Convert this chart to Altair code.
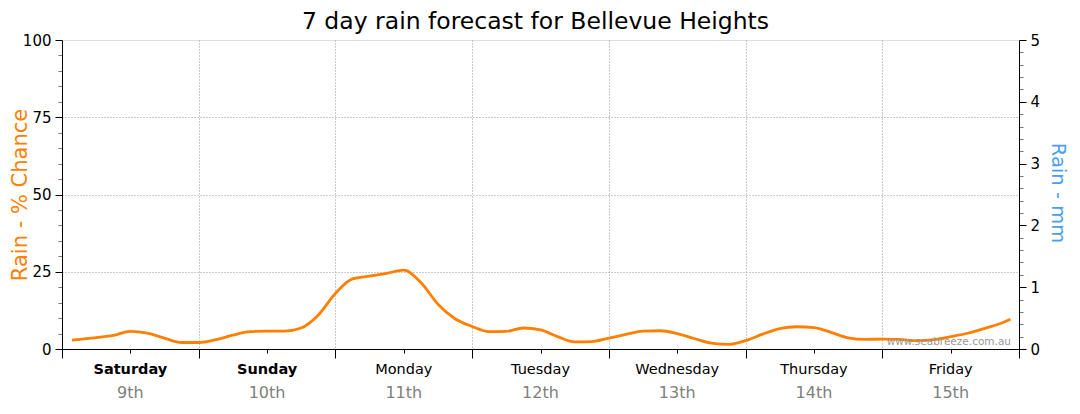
import altair as alt
import pandas as pd

# ---- data ----
hours = [1.75, 6, 9, 12, 15, 18, 21, 24, 27, 30, 33, 36, 39, 42, 45, 48, 51, 54, 57, 60,
         63, 66, 69, 72, 75, 78, 81, 84, 87, 90, 93, 96, 99, 102, 105, 108, 111, 114, 117,
         120, 123, 126, 129, 132, 135, 138, 141, 144, 147, 150, 153, 156, 159, 162, 165, 166.5]
chance = [2.9, 3.7, 4.4, 5.7, 5.1, 3.5, 2.1, 2.1, 3.0, 4.5, 5.6, 5.8, 5.8, 6.8, 11.0, 18.0,
          22.7, 23.6, 24.5, 25.5, 21.5, 14.5, 9.8, 7.3, 5.6, 5.7, 6.8, 6.2, 4.0, 2.3, 2.4,
          3.5, 4.7, 5.8, 5.9, 5.0, 3.4, 1.9, 1.5, 2.7, 4.8, 6.6, 7.2, 6.9, 5.4, 3.6, 3.1,
          3.2, 3.1, 2.7, 3.0, 4.0, 5.1, 6.7, 8.4, 9.6]
rain_mm = [0.0] * len(hours)

day_mid = [12, 36, 60, 84, 108, 132, 156]
day_names = ["Saturday", "Sunday", "Monday", "Tuesday", "Wednesday", "Thursday", "Friday"]
day_bold = [True, True, False, False, False, False, False]
day_dates = ["9th", "10th", "11th", "12th", "13th", "14th", "15th"]

pct_ticks = list(range(0, 101, 5))
mm_ticks = [round(i * 0.2, 1) for i in range(26)]
hour_ticks = list(range(0, 169, 6))

TITLE = "7 day rain forecast for Bellevue Heights"
WATERMARK = "www.seabreeze.com.au"

FONT = "DejaVu Sans"
W, H = 957, 309
ORANGE = "#ff7f00"
BLUE = "#4a9ef5"

df = pd.DataFrame({"h": hours, "chance": chance, "mm": rain_mm})
days = pd.DataFrame({"h": day_mid, "name": day_names, "bold": day_bold, "date": day_dates})

xscale = alt.Scale(domain=[0, 168], nice=False, zero=False)
xaxis = alt.Axis(
    values=hour_ticks, labels=False, title=None,
    domainColor="black", domainWidth=1,
    tickColor="black", tickWidth=1,
    tickSize={"condition": {"test": "datum.value % 24 == 0", "value": 9}, "value": 4},
    grid=True, gridColor="#999999", gridDash=[1, 2], gridWidth=1,
    gridOpacity={"condition": {"test": "datum.value % 24 == 0 && datum.value > 0 && datum.value < 168",
                               "value": 1}, "value": 0},
)

yaxis_left = alt.Axis(
    values=pct_ticks, orient="left",
    labelExpr="datum.value % 25 == 0 ? datum.label : ''",
    labelOverlap=False, labelFont=FONT, labelFontSize=15, labelColor="black", labelPadding=4,
    domainColor="black", domainWidth=1,
    tickColor={"condition": {"test": "datum.value % 25 == 0", "value": "black"}, "value": "#777777"},
    tickWidth=1,
    tickSize={"condition": {"test": "datum.value % 25 == 0", "value": 7}, "value": 4},
    grid=True, gridColor="#999999", gridDash=[1, 2], gridWidth=1,
    gridOpacity={"condition": {"test": "datum.value % 25 == 0 && datum.value > 0 && datum.value < 100",
                               "value": 1}, "value": 0},
    title="Rain - % Chance", titleColor=ORANGE, titleFont=FONT, titleFontSize=21,
    titleFontWeight="normal", titleX=-42, titleY=H / 2, titleAngle=270,
    titleBaseline="middle", titleAlign="center",
)

yaxis_right = alt.Axis(
    values=mm_ticks, orient="right", grid=False,
    labelExpr="abs(datum.value - round(datum.value)) < 0.001 ? '' + round(datum.value) : ''",
    labelOverlap=False, labelFont=FONT, labelFontSize=15, labelColor="black", labelPadding=4,
    domainColor="black", domainWidth=1,
    tickColor={"condition": {"test": "abs(datum.value - round(datum.value)) < 0.001", "value": "black"},
               "value": "#777777"},
    tickWidth=1,
    tickSize={"condition": {"test": "abs(datum.value - round(datum.value)) < 0.001", "value": 7},
              "value": 4},
    title="Rain - mm", titleColor=BLUE, titleFont=FONT, titleFontSize=19.5,
    titleFontWeight="normal", titleX=38, titleY=H / 2 - 2, titleAngle=90,
    titleBaseline="middle", titleAlign="center",
)

base = alt.Chart(df)

line = base.mark_line(color=ORANGE, strokeWidth=2.8, interpolate="monotone").encode(
    x=alt.X("h:Q", scale=xscale, axis=xaxis),
    y=alt.Y("chance:Q", scale=alt.Scale(domain=[0, 100], nice=False), axis=yaxis_left),
)

mm_layer = base.mark_line(opacity=0).encode(
    x=alt.X("h:Q", scale=xscale),
    y=alt.Y("mm:Q", scale=alt.Scale(domain=[0, 5], nice=False), axis=yaxis_right),
)

day_base = alt.Chart(days)
weekend = day_base.transform_filter("datum.bold").mark_text(
    font=FONT, fontSize=14.5, fontWeight="bold", color="black", baseline="middle", clip=False
).encode(x=alt.X("h:Q", scale=xscale), y=alt.value(H + 21), text="name:N")
weekday = day_base.transform_filter("!datum.bold").mark_text(
    font=FONT, fontSize=14.5, fontWeight="normal", color="black", baseline="middle", clip=False
).encode(x=alt.X("h:Q", scale=xscale), y=alt.value(H + 21), text="name:N")
dates = day_base.mark_text(
    font=FONT, fontSize=16, color="#808080", baseline="middle", clip=False
).encode(x=alt.X("h:Q", scale=xscale), y=alt.value(H + 44), text="date:N")

wm = alt.Chart(alt.Data(values=[{"t": WATERMARK}])).mark_text(
    font=FONT, fontSize=10.5, color="#999999", align="right", baseline="alphabetic"
).encode(x=alt.value(W - 8), y=alt.value(H - 4), text="t:N")

chart = alt.layer(line, mm_layer, weekend, weekday, dates, wm).resolve_scale(
    y="independent"
).properties(
    width=W, height=H,
    title=alt.TitleParams(TITLE, font=FONT, fontSize=23.5, fontWeight="normal", color="black",
                          anchor="middle", offset=0, dx=-5),
    autosize=alt.AutoSizeParams(type="none"),
    padding={"left": 54, "top": 32, "right": 53, "bottom": 57},
).configure_view(stroke=None).configure(background="white")

chart.save("out.html", embed_options={"renderer": "svg", "actions": False})
